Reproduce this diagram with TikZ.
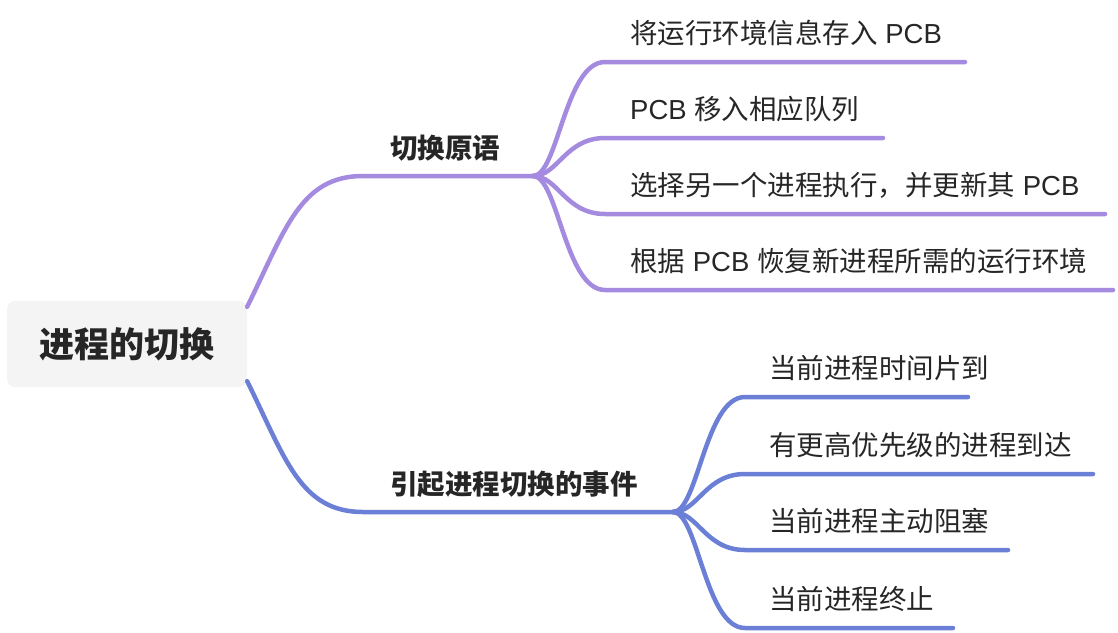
\documentclass[tikz,border=0pt]{standalone}
\usepackage{fontspec}
\setmainfont{Noto Sans CJK SC}
\newfontfamily\lat{Liberation Sans}
\newcommand{\pcb}{{\lat\ PCB\ }}
\newcommand{\pcbend}{{\lat\ PCB}}
\newcommand{\pcbstart}{{\lat PCB\ }}
\definecolor{pcol}{RGB}{164,139,224}
\definecolor{bcol}{RGB}{108,127,214}
\definecolor{txt}{RGB}{38,38,38}
\definecolor{rootfill}{RGB}{244,244,244}
\tikzset{
  rootbox/.style={fill=rootfill, rounded corners=8pt, minimum width=240pt, minimum height=86pt, inner sep=0pt, text=txt, font=\fontsize{35}{40}\selectfont\bfseries},
  lbl/.style={anchor=west, inner sep=0pt, text=txt, font=\fontsize{27.5}{30}\selectfont\bfseries},
  leaf/.style={anchor=west, inner sep=0pt, text=txt, font=\fontsize{27.5}{30}\selectfont},
  pbr/.style={draw=pcol, line width=4.5pt, line cap=round},
  bbr/.style={draw=bcol, line width=4.5pt, line cap=round}
}
\begin{document}
\begin{tikzpicture}[x=1pt,y=-1pt]
\useasboundingbox (0,0) rectangle (1118,632);
\node[rootbox] (root) at (127,344) {进程的切换};
% purple branch
\node[lbl] (p) at (390,148) {切换原语};
\coordinate (ps) at ([yshift=-6pt]root.north east);
\coordinate (pa) at (363,176);
\coordinate (pj) at (533,176);
\draw[pbr] (ps) .. controls +(38,-77) and +(-63,0) .. (pa) -- (pj);
\node[leaf] (p1) at (630,33) {将运行环境信息存入\pcbend};
\node[leaf] (p2) at (630,109) {\pcbstart 移入相应队列};
\node[leaf] (p3) at (630,185) {选择另一个进程执行，并更新其\pcbend};
\node[leaf] (p4) at (630,261) {根据\pcb 恢复新进程所需的运行环境};
\coordinate (p1s) at (605,62);  \coordinate (p1e) at (965,62);
\coordinate (p2s) at (605,138); \coordinate (p2e) at (883,138);
\coordinate (p3s) at (605,214); \coordinate (p3e) at (1105,214);
\coordinate (p4s) at (605,290); \coordinate (p4e) at (1113,290);
\foreach \i in {1,2,3,4}{
  \draw[pbr] (pj) .. controls +(25,0) and +(-40,0) .. (p\i s) -- (p\i e);
}
% blue branch
\node[lbl] (b) at (390,484) {引起进程切换的事件};
\coordinate (bs) at ([yshift=6pt]root.south east);
\coordinate (ba) at (363,512);
\coordinate (bj) at (673,512);
\draw[bbr] (bs) .. controls +(38,77) and +(-63,0) .. (ba) -- (bj);
\node[leaf] (b1) at (769,368) {当前进程时间片到};
\node[leaf] (b2) at (769,445) {有更高优先级的进程到达};
\node[leaf] (b3) at (769,521) {当前进程主动阻塞};
\node[leaf] (b4) at (769,599) {当前进程终止};
\coordinate (b1s) at (745,397); \coordinate (b1e) at (968,397);
\coordinate (b2s) at (745,474); \coordinate (b2e) at (1093,474);
\coordinate (b3s) at (745,550); \coordinate (b3e) at (1008,550);
\coordinate (b4s) at (745,628); \coordinate (b4e) at (953,628);
\foreach \i in {1,2,3,4}{
  \draw[bbr] (bj) .. controls +(25,0) and +(-40,0) .. (b\i s) -- (b\i e);
}
\end{tikzpicture}
\end{document}
